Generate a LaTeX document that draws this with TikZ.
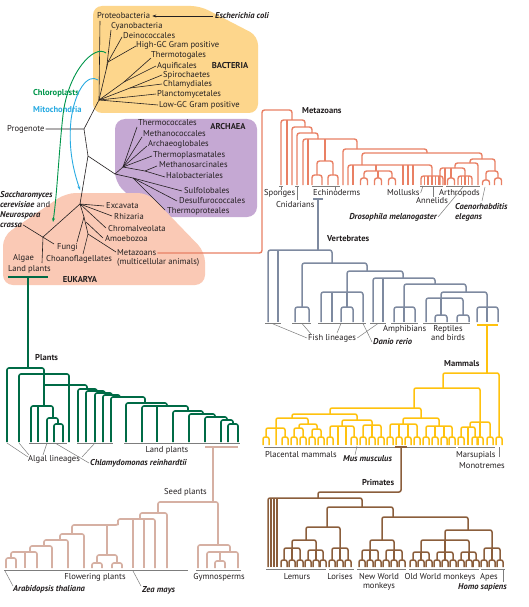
\documentclass[tikz,border=0pt]{standalone}
\usepackage{fontspec}
\setmainfont{PT Sans}
\usetikzlibrary{arrows.meta}
\definecolor{bacbox}{RGB}{253,214,140}
\definecolor{arcbox}{RGB}{197,168,211}
\definecolor{eukbox}{RGB}{250,201,181}
\definecolor{metac}{RGB}{233,128,100}
\definecolor{vertc}{RGB}{126,138,160}
\definecolor{mamc}{RGB}{255,194,14}
\definecolor{primc}{RGB}{139,94,60}
\definecolor{plc}{RGB}{0,107,70}
\definecolor{seedc}{RGB}{214,176,163}
\definecolor{chlc}{RGB}{0,150,75}
\definecolor{mitc}{RGB}{41,171,226}
\definecolor{txt}{RGB}{35,31,32}
\definecolor{ptr}{RGB}{125,125,125}
\newcommand\fs{\fontsize{8.55}{9.5}\selectfont}
\newcommand\brk[5]{\draw (#2,#3) |- (#4,#1) -- (#4,#5);}
\newcommand\vln[3]{\draw (#1,#2) -- (#1,#3);}
\newcommand\chy[4]{\draw (#1-#4,#3) |- (#1+#4,#2) -- (#1+#4,#3);}
\tikzset{
 lab/.style={font=\fs, text=txt, inner sep=0pt, text height=6pt, text depth=1.8pt},
 labw/.style={lab, anchor=west},
 ttl/.style={lab, font=\fs\bfseries},
 spn/.style={lab, font=\fs\bfseries\itshape},
 blk/.style={draw=txt, line width=0.6pt},
 ptrl/.style={draw=ptr, line width=0.5pt},
 tip/.style={-{Stealth[length=4pt,width=3pt]}},
}
\begin{document}
\begin{tikzpicture}[x=1pt,y=-1pt]
\useasboundingbox (0,0) rectangle (528,607);
\fill[white] (0,0) rectangle (528,607);
% ---------- shaded domains
\fill[bacbox, rounded corners=9pt] (93,6) -- (200,6) -- (258,36) -- (258,113) -- (93,113) -- cycle;
\fill[arcbox, rounded corners=10pt] (115,119) -- (257,119) -- (257,217) -- (150,217) -- (115,182) -- cycle;
\fill[eukbox, rounded corners=10pt] (3,236) -- (66,193) -- (148,193) -- (205,252) -- (205,285) -- (3,285) -- cycle;
% ---------- top labels
\node[labw] (prot) at (97,16) {Proteobacteria};
\node[spn, anchor=west] (ecoli) at (215,16) {Escherichia coli};
\node[labw] (cyan) at (111,26) {Cyanobacteria};
\node[labw] (dein) at (123,36) {Deinococcales};
\node[labw] (hgc) at (136,45) {High-GC Gram positive};
\node[labw] (thtg) at (151,55) {Thermotogales};
\node[labw] (aqui) at (157,66) {Aquificales};
\node[labw] (spir) at (163,75) {Spirochaetes};
\node[labw] (chla) at (163,84) {Chlamydiales};
\node[labw] (plan) at (157,94) {Planctomycetales};
\node[labw] (lgc) at (159,105) {Low-GC Gram positive};
\node[ttl] (bact) at (230,66) {BACTERIA};
\node[ttl, anchor=west, text=chlc] (chlo) at (33,93) {Chloroplasts};
\node[ttl, anchor=west, text=mitc] (mito) at (33,110) {Mitochondria};
\node[labw] (prog) at (7,129) {Progenote};
\node[ttl] (arch) at (228,127) {ARCHAEA};
\node[labw] (tcoc) at (138,123) {Thermococcales};
\node[labw] (mcoc) at (143,134) {Methanococcales};
\node[labw] (aglo) at (148,144) {Archaeoglobales};
\node[labw] (tpla) at (153,155) {Thermoplasmatales};
\node[labw] (msar) at (159,165) {Methanosarcinales};
\node[labw] (halo) at (166,176) {Halobacteriales};
\node[labw] (sulf) at (184,191) {Sulfolobales};
\node[labw] (desu) at (179,201) {Desulfurococcales};
\node[labw] (tpro) at (167,211) {Thermoproteales};
\node[spn, anchor=west] (sac1) at (0,195) {Saccharomyces};
\node[labw] (sac2) at (0,205) {\textbf{\textit{cerevisiae}} and};
\node[spn, anchor=west] (sac3) at (0,215) {Neurospora};
\node[spn, anchor=west] (sac4) at (0,225) {crassa};
\node[labw] (exca) at (106,206) {Excavata};
\node[labw] (rhiz) at (114,217) {Rhizaria};
\node[labw] (chro) at (108,229) {Chromalveolata};
\node[labw] (amoe) at (105,239) {Amoebozoa};
\node[labw] (fung) at (57,247) {Fungi};
\node[labw] (metaz) at (117,253) {Metazoans};
\node[labw] (mult) at (117,262) {(multicellular animals)};
\node[labw] (choa) at (46,259) {Choanoflagellates};
\node[labw] (alga) at (13,258) {Algae};
\node[labw] (lpl1) at (8,269) {Land plants};
\node[ttl] (euka) at (80,280) {EUKARYA};
% ---------- universal tree (black)
\coordinate (R) at (99,100);
\coordinate (P) at (84,129);
\coordinate (Q) at (88,156);
\coordinate (AR) at (115,174);
\coordinate (EA) at (123,167);
\coordinate (EB) at (145,171);
\coordinate (CR) at (133,178);
\coordinate (E) at (80,204);
\coordinate (F) at (84,217);
\coordinate (O) at (88,234);
\coordinate (PL) at (43,237);
\draw[blk] (100,21) -- (R);
\draw[blk] (111,30) -- (106.6,68);
\draw[blk] (122,37) -- (108,62);
\draw[blk] (136,46) -- (108,62) -- (R);
\draw[blk] (151,58) -- (124,82) -- (R);
\draw[blk] (156,66) -- (124,82);
\draw[blk] (162,75) -- (130,88) -- (R);
\draw[blk] (162,84) -- (130,88);
\draw[blk] (156,94) -- (R);
\draw[blk] (158,105) -- (R);
\draw[blk, tip] ([xshift=-2pt]ecoli.west) -- ([xshift=2pt]prot.east);
\draw[blk] ([xshift=1pt]prog.east) -- (P) -- (R);
\draw[blk] (P) -- (Q) -- (AR);
\draw[blk] (Q) -- (E);
\draw[blk] (AR) -- (EA);
\draw[blk] (EA) -- (137,127);
\draw[blk] (EA) -- (142,137);
\draw[blk] (EA) -- (147,146);
\draw[blk] (EA) -- (152,156);
\draw[blk] (EA) -- (EB) -- (157,166);
\draw[blk] (EB) -- (165,177);
\draw[blk] (AR) -- (CR) -- (182,191);
\draw[blk] (CR) -- (177,201);
\draw[blk] (CR) -- (165,210);
\draw[blk] (E) -- (104,206);
\draw[blk] (E) -- (112,216);
\draw[blk] (E) -- (106,228);
\draw[blk] (E) -- (F) -- (77,242);
\draw[blk] (F) -- (O) -- (116,252);
\draw[blk] (O) -- (83,254);
\draw[blk] (86,222) -- (103,238);
\draw[blk] (E) -- (PL) -- (42,263);
\draw[blk] ([xshift=1pt]sac4.east) -- (54,244);
% organelle arrows
\draw[chlc, line width=0.9pt, tip] (106,53) .. controls (94,44) and (68,72) .. (63,115) .. controls (59,150) and (57,195) .. (53,222);
\draw[mitc, line width=0.9pt, tip] (98,80) .. controls (88,73) and (75,90) .. (71,120) .. controls (68,150) and (74,172) .. (80,190);
% ---------- Metazoans
\node[ttl, anchor=west] (metat) at (302,111) {Metazoans};
\begin{scope}[metac, line width=1.4pt, rounded corners=2.5pt]
\draw ([xshift=1pt]metaz.east) -- (262,253) -- (262,110) -- (292,110) -- (292,120);
\brk{120}{281}{185}{305}{127} \vln{287}{120}{185}
\brk{127}{292}{185}{312}{133}
\brk{133}{297}{185}{318}{139}
\brk{139}{303}{185}{357}{149} \vln{308}{139}{185} \vln{325}{139}{161}
\brk{161}{317}{175}{333}{175} \chy{317}{175}{185}{5} \chy{333}{175}{185}{5}
\brk{149}{343}{185}{427}{153}
\brk{153}{362}{165}{482}{159}
\brk{165}{348}{185}{432}{176} \vln{353}{165}{185} \vln{376}{165}{171} \vln{403}{165}{185} \vln{408}{165}{185} \vln{413}{165}{185}
\brk{171}{364}{178}{392}{178} \vln{378}{171}{178}
\chy{364}{178}{185}{3.5} \chy{378}{178}{185}{3.5} \chy{392}{178}{185}{3.5}
\brk{176}{421}{185}{443}{185}
\foreach \x in {424.5,428,432,435.5,439}{\vln{\x}{176}{185}}
\brk{159}{470}{163}{495}{171}
\brk{171}{486}{180}{498}{178} \chy{486}{180}{185}{3.5} \chy{498}{178}{185}{3.5}
\brk{163}{455}{168}{478}{185}
\brk{168}{440}{185}{465}{176} \vln{445}{168}{185} \vln{451}{168}{178} \chy{451}{178}{185}{3.5}
\brk{176}{458}{185}{472}{185} \vln{461.5}{176}{185} \vln{465}{176}{185} \vln{468.5}{176}{185}
\end{scope}
\node[labw] (spon) at (264,193) {Sponges};
\node[labw] (cnid) at (276,205) {Cnidarians};
\node[labw] (echi) at (313,193) {Echinoderms};
\node[labw] (moll) at (387,193) {Mollusks};
\node[labw] (anne) at (416,201) {Annelids};
\node[labw] (arth) at (439,193) {Arthropods};
\node[spn, anchor=west] (cael1) at (455,207) {Caenorhabditis};
\node[spn, anchor=west] (cael2) at (455,217) {elegans};
\node[spn, anchor=east] (dros) at (437,217) {Drosophila melanogaster};
\draw[ptrl] (279,186.5) -- (283,186.5) (281,186.5) -- (281,190);
\draw[ptrl] (295,186.5) -- (299,186.5) (297,186.5) -- (297,200);
\draw[ptrl] (312,186.5) -- (340,186.5) (335,186.5) -- (335,190);
\draw[ptrl] ([xshift=1pt]moll.east) -- (423,186);
\draw[ptrl] (420,186.5) -- (443,186.5) (433,186.5) -- (433,197);
\draw[ptrl] (446,186.5) -- (480,186.5);
\draw[ptrl] ([xshift=1pt]dros.east) -- (463,187);
\draw[ptrl] (482,201) -- (485,187);
% ---------- Vertebrates
\node[ttl, anchor=west] (vertt) at (327,239) {Vertebrates};
\begin{scope}[vertc, line width=1.5pt, rounded corners=2.5pt]
\draw (313,199) -- (323,199);
\draw (318,199) -- (318,250);
\brk{250}{268}{322}{332}{263} \vln{278}{250}{322}
\brk{263}{302}{307}{367}{271} \chy{302}{307}{322}{7}
\brk{271}{347}{292}{403}{278}
\brk{292}{321}{322}{363}{322} \vln{332}{292}{322} \vln{347}{292}{307} \chy{347}{307}{322}{6}
\brk{278}{373}{322}{435}{284} \vln{383}{278}{322}
\brk{284}{404}{307}{466}{292}
\brk{307}{394}{322}{415}{322} \vln{404}{307}{322}
\brk{292}{441}{298}{487}{307}
\brk{298}{426}{322}{463}{315} \vln{441}{298}{315} \chy{441}{315}{322}{6} \chy{463}{315}{322}{6}
\brk{307}{477}{322}{498}{322} \vln{487}{307}{322}
\end{scope}
\draw[ptrl] (265,323) -- (281,323) (292,323) -- (311,323) (318,323) -- (366,323) (370,323) -- (386,323) (391,323) -- (418,323) (423,323) -- (470,323);
\node[labw] (fish) at (308,338) {Fish lineages};
\node[spn, anchor=west] (danio) at (373,342) {Danio rerio};
\node[labw] (amph) at (383,329) {Amphibians};
\node[lab] (rept1) at (448,329) {Reptiles};
\node[lab] (rept2) at (448,338) {and birds};
\draw[ptrl] ([xshift=-1pt]fish.west) -- (272,323.5);
\draw[ptrl] (311,334) -- (302,323.5);
\draw[ptrl] (337,333) -- (341,323.5);
\draw[ptrl] ([xshift=1pt]fish.east) -- (378,323.5);
\draw[ptrl] ([xshift=-1pt]danio.west) -- (363,323.5);
% ---------- Mammals
\node[ttl, anchor=west] (mamt) at (444,364) {Mammals};
\begin{scope}[mamc, line width=1.5pt, rounded corners=2pt]
\draw (477,325) -- (498,325);
\draw (487,325) -- (487,373);
\brk{373}{443}{388}{499}{437} \chy{499}{437}{445}{3}
\brk{388}{414}{408}{480}{422}
\brk{422}{470}{427}{490}{437} \vln{480}{422}{437} \chy{480}{437}{445}{3} \chy{490}{437}{445}{3}
\brk{427}{461}{437}{475}{437} \vln{468}{427}{445} \chy{461}{437}{445}{3} \chy{475}{437}{445}{3}
\brk{408}{330}{414}{421}{418}
\brk{414}{292}{418}{357}{420}
\brk{418}{276}{445}{308}{424}
\brk{428}{266}{437}{285}{437} \chy{266}{437}{445}{3} \chy{285}{437}{445}{3}
\brk{424}{299}{428}{317}{429}
\brk{428}{294}{437}{303}{437} \chy{294}{437}{445}{3} \chy{303}{437}{445}{3}
\brk{429}{312}{437}{321}{437} \chy{312}{437}{445}{3} \chy{321}{437}{445}{3}
\brk{420}{342}{426}{372}{425}
\brk{426}{330}{437}{354}{437} \vln{338}{426}{445} \vln{346}{426}{445} \chy{330}{437}{445}{3} \chy{354}{437}{445}{3}
\brk{425}{363}{437}{381}{437} \vln{372}{425}{437}
\chy{363}{437}{445}{3} \chy{372}{437}{445}{3} \chy{381}{437}{445}{3}
\brk{418}{403}{424}{439}{426}
\brk{424}{390}{437}{417}{437} \vln{399}{424}{437} \vln{408}{424}{437}
\foreach \x in {390,399,408,417}{\chy{\x}{437}{445}{3}}
\brk{426}{426}{437}{452}{437} \vln{435}{426}{437} \vln{444}{426}{437}
\foreach \x in {426,435,444,452}{\chy{\x}{437}{445}{3}}
\end{scope}
\draw[ptrl] (264,447) -- (456,447) (458,447) -- (495,447) (499,447) -- (499,457);
\node[labw] (plac) at (265,455) {Placental mammals};
\node[spn, anchor=west] (mus) at (343,459) {Mus musculus};
\node[labw] (mars) at (456,455) {Marsupials};
\node[labw] (mono) at (459,466) {Monotremes};
\draw[ptrl] (355,455) -- (357,446);
% ---------- Primates
\node[ttl, anchor=west] (primt) at (362,483) {Primates};
\begin{scope}[primc, line width=1.5pt, rounded corners=2pt]
\draw (395,447) -- (407,447);
\draw (401,447) -- (401,492) -- (318,492) -- (318,498);
\brk{498}{268}{567}{362}{507} \vln{271}{498}{567} \vln{274}{498}{567} \vln{277}{498}{567}
\brk{507}{327}{527}{393}{517}
\brk{527}{306}{540}{340}{548}
\brk{540}{292}{548}{316}{550}
\brk{548}{284}{560}{300}{560} \vln{292}{548}{560}
\brk{550}{308}{560}{323}{560} \vln{316}{550}{560}
\brk{548}{332}{560}{348}{560} \vln{340}{548}{560}
\brk{517}{382}{540}{468}{530}
\brk{540}{370}{550}{394}{550}
\brk{550}{362}{560}{378}{560} \vln{370}{550}{560}
\brk{550}{386}{560}{402}{560} \vln{394}{550}{560}
\brk{530}{445}{540}{492}{548}
\brk{540}{421}{552}{469}{552} \vln{445}{540}{552}
\brk{552}{413}{560}{429}{560} \vln{421}{552}{560}
\brk{552}{437}{560}{453}{560} \vln{445}{552}{560}
\brk{552}{461}{560}{476}{560} \vln{469}{552}{560}
\brk{548}{484}{560}{500}{560} \vln{492}{548}{560}
\foreach \x in {284,292,300,308,316,323,332,340,348,362,370,378,386,394,402,413,421,429,437,445,453,461,469,476,484,492,500}{\chy{\x}{560}{567}{3}}
\end{scope}
\draw[ptrl] (266,569) -- (326,569) (329,569) -- (354,569) (357,569) -- (406,569) (409,569) -- (479,569) (481,569) -- (505,569);
\draw[ptrl] (503,569) -- (503,582);
\node[lab] (lemu) at (297,577) {Lemurs};
\node[lab] (lori) at (340,577) {Lorises};
\node[lab] (nwm1) at (379,577) {New World};
\node[lab] (nwm2) at (379,586) {monkeys};
\node[lab] (owm) at (440,577) {Old World monkeys};
\node[lab] (apes) at (489,577) {Apes};
\node[spn, anchor=west] (homo) at (458,587) {Homo sapiens};
% ---------- Plants
\node[ttl, anchor=west] (plt) at (35,358) {Plants};
\begin{scope}[plc, line width=1.6pt, rounded corners=2pt]
\draw (8,277) -- (48,277);
\draw (28,277) -- (28,368);
\brk{368}{7}{442}{44}{374}
\brk{374}{19}{442}{69}{442}
\draw (44,374) -- (44,406);
\draw (44,385) -| (87,389);
\brk{406}{31}{442}{53}{418} \vln{38}{406}{442}
\brk{418}{47}{442}{58}{424}
\brk{424}{54}{442}{63}{442}
\brk{389}{78}{442}{97}{391}
\brk{391}{86}{442}{105}{393}
\brk{393}{95}{442}{112}{395}
\brk{395}{103}{442}{120}{397}
\brk{397}{111}{442}{145}{403}
\brk{403}{126}{442}{167}{406}
\brk{406}{142}{442}{188}{411} \vln{157}{406}{442}
\brk{411}{173}{442}{203}{414}
\brk{414}{189}{442}{215}{417}
\brk{417}{205}{442}{227}{420}
\brk{420}{221}{442}{233}{424}
\brk{424}{228}{442}{238}{442}
\end{scope}
\draw[ptrl] (29,443) -- (67,443) (77,443) -- (113,443) (124,443) -- (240,443);
\node[labw] (algl) at (28,459) {Algal lineages};
\node[spn, anchor=west] (chlam) at (90,463) {Chlamydomonas reinhardtii};
\node[lab] (lpl2) at (167,450) {Land plants};
\draw[ptrl] (7,443) -- (28,457);
\draw[ptrl] (19,443) -- (29,455);
\draw[ptrl] (47,443) -- (43,455);
\draw[ptrl] (95,443) -- (82,457);
\draw[ptrl] (55,443) -- ([xshift=-1pt]chlam.west);
% ---------- Seed plants
\node[labw] (seedt) at (164,492) {Seed plants};
\begin{scope}[seedc, line width=1.6pt, rounded corners=2pt]
\draw (205,447) -- (238,447);
\draw (213,447) -- (213,502);
\brk{502}{158}{513}{218}{545}
\brk{513}{140}{519}{167}{568}
\brk{519}{118}{525}{155}{568} \vln{133}{519}{568} \vln{144}{519}{568}
\draw (118,520) -- (118,525) -- (72,525) -- (72,534);
\vln{107}{525}{555}
\brk{555}{97}{563}{117}{563} \chy{97}{563}{568}{5} \chy{117}{563}{568}{5}
\brk{534}{60}{540}{84}{568}
\brk{540}{44}{546}{68}{568}
\brk{546}{30}{552}{52}{568}
\brk{552}{11}{558}{37}{568} \vln{25}{552}{568} \chy{11}{558}{568}{5}
\brk{545}{198}{568}{230}{552}
\brk{552}{207}{568}{238}{568} \vln{220}{552}{561} \chy{220}{561}{568}{5}
\end{scope}
\draw[ptrl] (4,570) -- (188,570) (196,570) -- (241,570);
\node[lab] (flow) at (95,577) {Flowering plants};
\node[lab] (gymn) at (219,577) {Gymnosperms};
\node[spn, anchor=west] (arab) at (13,589) {Arabidopsis thaliana};
\node[spn, anchor=west] (zea) at (142,590) {Zea mays};
\draw[ptrl] (13,586) -- (5,571);
\draw[ptrl] (141,586) -- (133,571);
\end{tikzpicture}
\end{document}
